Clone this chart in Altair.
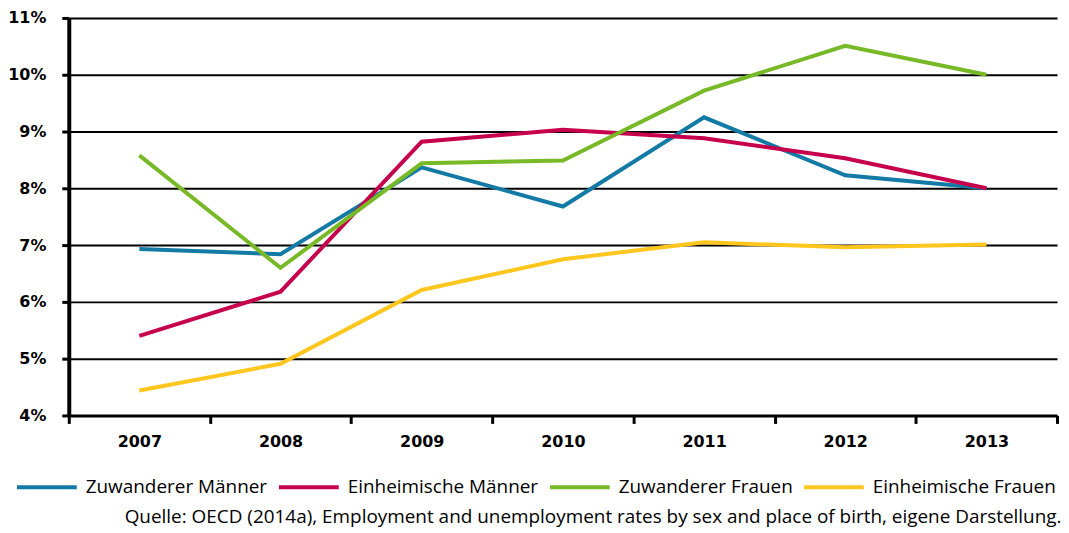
import altair as alt
import pandas as pd

years = ["2007", "2008", "2009", "2010", "2011", "2012", "2013"]
series_names = ["Zuwanderer Männer", "Einheimische Männer", "Zuwanderer Frauen", "Einheimische Frauen"]
zuw_m = [6.93, 6.84, 8.37, 7.68, 9.25, 8.23, 8.00]
einh_m = [5.40, 6.18, 8.82, 9.03, 8.88, 8.53, 8.00]
zuw_f = [8.58, 6.60, 8.44, 8.49, 9.72, 10.51, 10.00]
einh_f = [4.44, 4.91, 6.21, 6.75, 7.05, 6.96, 7.01]
colors = ["#127aa5", "#c6004d", "#78b928", "#ffc61e"]
y_ticks = [4, 5, 6, 7, 8, 9, 10, 11]
source_text = "Quelle: OECD (2014a), Employment and unemployment rates by sex and place of birth, eigene Darstellung."

rows = []
for name, vals in zip(series_names, [zuw_m, einh_m, zuw_f, einh_f]):
    for y, v in zip(years, vals):
        rows.append({"Jahr": y, "Wert": v, "Serie": name})
df = pd.DataFrame(rows)

chart = alt.Chart(df).mark_line(strokeWidth=4).encode(
    x=alt.X(
        "Jahr:O",
        sort=years,
        bandPosition=0.5,
        scale=alt.Scale(type="band", paddingInner=0, paddingOuter=0),
        axis=alt.Axis(
            title=None, labelAngle=0, tickBand="extent",
            domainColor="black", domainWidth=3,
            tickColor="black", tickWidth=3, tickSize=8,
            labelFont="DejaVu Sans", labelFontWeight="bold", labelFontSize=16,
            labelColor="black", labelPadding=10,
        ),
    ),
    y=alt.Y(
        "Wert:Q",
        scale=alt.Scale(domain=[4, 11], nice=False, zero=False),
        axis=alt.Axis(
            title=None, values=y_ticks, labelExpr="datum.value + '%'",
            grid=True, gridColor="black", gridWidth=2,
            domainColor="black", domainWidth=4,
            tickColor="black", tickWidth=3, tickSize=7,
            labelFont="DejaVu Sans", labelFontWeight="bold", labelFontSize=16,
            labelColor="black", labelPadding=16,
        ),
    ),
    color=alt.Color(
        "Serie:N",
        sort=series_names,
        scale=alt.Scale(domain=series_names, range=colors),
        legend=alt.Legend(
            title=None, orient="none", legendX=-54, legendY=439,
            direction="horizontal", symbolType="stroke", symbolSize=3600,
            symbolStrokeWidth=4, labelFont="Open Sans", labelFontSize=19,
            labelColor="black", labelOffset=7, columnPadding=3, labelLimit=0,
        ),
    ),
).properties(
    width=992,
    height=399,
    title=alt.TitleParams(
        text=source_text, orient="bottom", anchor="end",
        font="Open Sans", fontSize=19, fontWeight="normal", color="black",
        offset=11, dx=3,
    ),
    autosize=alt.AutoSizeParams(type="none"),
    padding={"left": 61, "top": 9, "right": 4, "bottom": 114},
).configure_view(stroke=None)

chart.save("out.html", embed_options={"renderer": "svg", "actions": False})
